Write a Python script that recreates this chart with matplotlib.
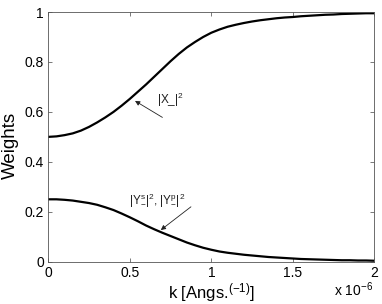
import matplotlib
matplotlib.use("Agg")
import matplotlib.pyplot as plt

plt.rcParams['font.family'] = ['Liberation Sans', 'DejaVu Sans']
plt.rcParams['mathtext.fontset'] = 'custom'
plt.rcParams['mathtext.rm'] = 'Liberation Sans'
plt.rcParams['mathtext.it'] = 'Liberation Sans'
plt.rcParams['mathtext.bf'] = 'Liberation Sans:bold'

# k in units of 1e-6 Angs^-1
k = [0.00, 0.05, 0.10, 0.15, 0.20, 0.25, 0.30, 0.35, 0.40, 0.45, 0.50,
     0.55, 0.60, 0.65, 0.70, 0.75, 0.80, 0.85, 0.90, 0.95, 1.00,
     1.05, 1.10, 1.15, 1.20, 1.25, 1.30, 1.35, 1.40, 1.45, 1.50,
     1.55, 1.60, 1.65, 1.70, 1.75, 1.80, 1.85, 1.90, 1.95, 2.00]
x_weight = [0.500, 0.502, 0.507, 0.514, 0.525, 0.540, 0.558, 0.578, 0.600, 0.625, 0.652,
            0.681, 0.710, 0.741, 0.772, 0.803, 0.832, 0.858, 0.880, 0.900, 0.917,
            0.930, 0.941, 0.949, 0.956, 0.962, 0.967, 0.971, 0.975, 0.978, 0.980,
            0.983, 0.985, 0.987, 0.989, 0.990, 0.992, 0.993, 0.994, 0.995, 0.995]
y_weight = [0.250, 0.250, 0.248, 0.245, 0.240, 0.235, 0.228, 0.218, 0.207, 0.193, 0.178,
            0.162, 0.145, 0.130, 0.116, 0.103, 0.090, 0.077, 0.066, 0.056, 0.048,
            0.041, 0.036, 0.032, 0.028, 0.025, 0.022, 0.019, 0.017, 0.015, 0.013,
            0.011, 0.010, 0.009, 0.008, 0.007, 0.006, 0.006, 0.005, 0.005, 0.004]

fig = plt.figure(figsize=(3.82, 3.04), dpi=100)
ax = fig.add_axes([0.1264, 0.139, 0.8536, 0.8215])

ax.plot(k, x_weight, color='black', lw=1.6)
ax.plot(k, y_weight, color='black', lw=1.6)

ax.set_xlim(0, 2)
ax.set_ylim(0, 1)
ax.set_xticks([0, 0.5, 1, 1.5, 2])
ax.set_xticklabels(['0', '0.5', '1', '1.5', '2'])
ax.set_yticks([0, 0.2, 0.4, 0.6, 0.8, 1])
ax.set_yticklabels(['0', '0.2', '0.4', '0.6', '0.8', '1'])
ax.tick_params(direction='in', top=True, right=True, length=3, width=0.5,
               color='#444444', labelsize=10, pad=3)
for s in ax.spines.values():
    s.set_linewidth(0.6)
    s.set_color('#555555')

ax.set_xlabel('k [Angs.$^{(-1)}$]', fontsize=12, va='top')
ax.xaxis.set_label_coords(0.5, -0.077)
ax.set_ylabel('Weights', fontsize=13.5)
ax.yaxis.set_label_coords(-0.09, 0.467)
fig.text(0.976, 0.025, 'x 10$^{-6}$', ha='right', va='baseline', fontsize=10)

txt = '#222222'
ax.text(0.667, 0.65, '|X_|$^2$', fontsize=8.5, color=txt, va='center', ha='left')
ax.annotate('', xy=(0.532, 0.644), xytext=(0.70, 0.578),
            arrowprops=dict(arrowstyle='-|>', color=txt, lw=0.6,
                            mutation_scale=7, shrinkA=0, shrinkB=0))
ax.text(0.495, 0.247, '|Y$^{s}_{-}$|$^2$, |Y$^{p}_{-}$|$^2$', fontsize=8.5,
        color=txt, va='center', ha='left')
ax.annotate('', xy=(0.69, 0.127), xytext=(0.875, 0.22),
            arrowprops=dict(arrowstyle='-|>', color=txt, lw=0.6,
                            mutation_scale=7, shrinkA=0, shrinkB=0))

fig.savefig('out.png', dpi=100)
